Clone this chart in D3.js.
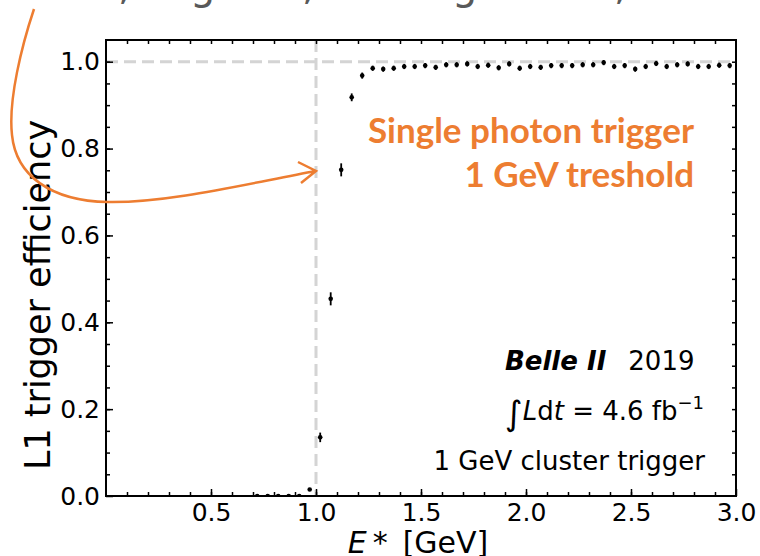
<!DOCTYPE html>
<html>
<head>
<meta charset="utf-8">
<script src="https://cdn.jsdelivr.net/npm/d3@7"></script>
<style>
  body { margin: 0; background: #fff; }
  svg { display: block; font-family: "DejaVu Sans", sans-serif; }
  .axis path, .axis line { stroke: #000; }
  .axis text { font-family: "DejaVu Sans", sans-serif; fill: #000; }
</style>
</head>
<body>
<div id="chart-area"></div>
<script>
// bin centres [GeV]
var energy = [0.72, 0.77, 0.82, 0.87, 0.92, 0.97, 1.02, 1.07, 1.12,
	1.17, 1.22, 1.27, 1.32, 1.37, 1.42, 1.47, 1.52, 1.57, 1.62, 1.67,
	1.72, 1.77, 1.82, 1.87, 1.92, 1.97, 2.02, 2.07, 2.12, 2.17, 2.22,
	2.27, 2.32, 2.37, 2.42, 2.47, 2.52, 2.57, 2.62, 2.67, 2.72, 2.77,
	2.82, 2.87, 2.92, 2.97];

// L1 efficiency per bin
var efficiency = [0.0, 0.0, 0.0, 0.0, 0.0, 0.015, 0.135, 0.454, 0.751,
	0.918, 0.968, 0.985, 0.983, 0.985, 0.989, 0.989, 0.991, 0.987, 0.993, 0.993,
	0.995, 0.989, 0.992, 0.986, 0.995, 0.985, 0.989, 0.987, 0.991, 0.991, 0.991,
	0.993, 0.993, 0.998, 0.989, 0.991, 0.983, 0.989, 0.996, 0.989, 0.993, 0.995,
	0.989, 0.989, 0.992, 0.991];

// symmetric errors
var effError = [0.001, 0.001, 0.001, 0.001, 0.001, 0.003, 0.011, 0.015, 0.015,
	0.009, 0.007, 0.006, 0.006, 0.006, 0.006, 0.006, 0.006, 0.006, 0.006, 0.006,
	0.006, 0.006, 0.006, 0.006, 0.006, 0.006, 0.006, 0.006, 0.006, 0.006, 0.006,
	0.006, 0.006, 0.006, 0.006, 0.006, 0.006, 0.006, 0.006, 0.006, 0.006, 0.006,
	0.006, 0.006, 0.006, 0.006];

var xTicks = [0.5, 1.0, 1.5, 2.0, 2.5, 3.0];
var yTicks = [0.0, 0.2, 0.4, 0.6, 0.8, 1.0];
var threshold = 1.0;   // dashed vertical line
var plateau = 1.0;     // dashed horizontal line

var width = 760, height = 556;
var plotLeft = 106, plotRight = 736, plotTop = 40, plotBottom = 496;
var orange = "#ED7D31";

var svg = d3.select("#chart-area")
	.append("svg")
		.attr("width", width)
		.attr("height", height);

//scales
var x = d3.scaleLinear()
	.domain([0, 3])
	.range([plotLeft, plotRight]);

var y = d3.scaleLinear()
	.domain([0, 1.05])
	.range([plotBottom, plotTop]);

// cut-off slide title above the plot
var titleBits = [[118, ","], [190, "g"], [302, ","], [452, "g"], [614, ","]];
titleBits.forEach(function(b){
	svg.append("text")
		.attr("x", b[0])
		.attr("y", -1)
		.attr("font-size", 40)
		.attr("fill", "#595959")
		.text(b[1]);
});

svg.append("clipPath")
	.attr("id", "plot-clip")
	.append("rect")
		.attr("x", plotLeft)
		.attr("y", plotTop)
		.attr("width", plotRight-plotLeft)
		.attr("height", plotBottom-plotTop);

//dashed reference lines
svg.append("line")
	.attr("x1", plotLeft).attr("x2", plotRight)
	.attr("y1", y(plateau)).attr("y2", y(plateau))
	.attr("stroke", "#d4d4d4")
	.attr("stroke-width", 3)
	.attr("stroke-dasharray", "12,6");

svg.append("line")
	.attr("x1", x(threshold)).attr("x2", x(threshold))
	.attr("y1", plotTop).attr("y2", plotBottom)
	.attr("stroke", "#d4d4d4")
	.attr("stroke-width", 3)
	.attr("stroke-dasharray", "12,6");

//axes, ticks pointing in (matplotlib style)
function minorTicks(step, max) {
	var t = [];
	for (var v = step; v < max; v += step) t.push(+v.toFixed(3));
	return t;
}

svg.append("g")
	.attr("class", "x axis")
	.attr("transform", "translate(0, " +plotBottom+ ")")
	.call(d3.axisBottom(x).tickValues(minorTicks(0.1, 3)).tickSize(-4).tickFormat(""))
	.call(function(g){ g.select(".domain").remove(); });

svg.append("g")
	.attr("class", "x axis")
	.attr("transform", "translate(0, " +plotBottom+ ")")
	.call(d3.axisBottom(x).tickValues(xTicks).tickSize(-7).tickPadding(7)
		.tickFormat(d3.format(".1f")))
	.call(function(g){
		g.select(".domain").remove();
		g.selectAll("text").attr("font-size", 25);
	});

svg.append("g")
	.attr("class", "x axis")
	.attr("transform", "translate(0, " +plotTop+ ")")
	.call(d3.axisTop(x).tickValues(minorTicks(0.1, 3)).tickSize(-4).tickFormat(""))
	.call(function(g){ g.select(".domain").remove(); });

svg.append("g")
	.attr("class", "y axis")
	.attr("transform", "translate(" +plotLeft+ ", 0)")
	.call(d3.axisLeft(y).tickValues(minorTicks(0.05, 1.05)).tickSize(-4).tickFormat(""))
	.call(function(g){ g.select(".domain").remove(); });

svg.append("g")
	.attr("class", "y axis")
	.attr("transform", "translate(" +plotLeft+ ", 0)")
	.call(d3.axisLeft(y).tickValues(yTicks).tickSize(-7).tickPadding(6)
		.tickFormat(d3.format(".1f")))
	.call(function(g){
		g.select(".domain").remove();
		g.selectAll("text").attr("font-size", 25);
	});

svg.append("g")
	.attr("class", "y axis")
	.attr("transform", "translate(" +plotRight+ ", 0)")
	.call(d3.axisRight(y).tickValues(minorTicks(0.05, 1.05)).tickSize(-4).tickFormat(""))
	.call(function(g){ g.select(".domain").remove(); });

svg.selectAll(".axis line").attr("stroke-width", 1.5);

//frame
svg.append("rect")
	.attr("x", plotLeft).attr("y", plotTop)
	.attr("width", plotRight-plotLeft).attr("height", plotBottom-plotTop)
	.attr("fill", "none")
	.attr("stroke", "#000")
	.attr("stroke-width", 2);

//labels
svg.append("text")
	.attr("transform", "translate(50, 295) rotate(-90)")
	.attr("text-anchor", "middle")
	.attr("font-size", 35)
	.text("L1 trigger efficiency");

var xLabel = svg.append("text")
	.attr("x", 418)
	.attr("y", 553)
	.attr("text-anchor", "middle")
	.attr("font-size", 30);
xLabel.append("tspan").attr("font-style", "italic").text("E");
xLabel.append("tspan").text("\u2009*\u2002[GeV]");

//data points with error bars
var points = energy.map(function(e, i){
	return { e: e, eff: efficiency[i], err: effError[i] };
});

var marks = svg.append("g").attr("clip-path", "url(#plot-clip)");

marks.selectAll("line.err")
	.data(points)
	.enter().append("line")
		.attr("class", "err")
		.attr("x1", function(d){ return x(d.e) })
		.attr("x2", function(d){ return x(d.e) })
		.attr("y1", function(d){ return y(d.eff - d.err) })
		.attr("y2", function(d){ return y(d.eff + d.err) })
		.attr("stroke", "#000")
		.attr("stroke-width", 1.8);

marks.selectAll("circle")
	.data(points)
	.enter().append("circle")
		.attr("cx", function(d){ return x(d.e) })
		.attr("cy", function(d){ return y(d.eff) })
		.attr("r", 2.3)
		.attr("fill", "#000");

//Belle II legend text
var info = svg.append("g").attr("font-size", 26);
var l1 = info.append("text").attr("x", 505).attr("y", 370);
l1.append("tspan").attr("font-weight", "bold").attr("font-style", "italic").text("Belle II");
l1.append("tspan").attr("dx", 22).text("2019");

var l2 = info.append("text").attr("x", 505).attr("y", 420);
l2.append("tspan").attr("font-size", 34).attr("dy", 5).text("\u222B");
l2.append("tspan").attr("dy", -5).attr("font-style", "italic").text("L");
l2.append("tspan").text("d");
l2.append("tspan").attr("font-style", "italic").text("t");
l2.append("tspan").text(" = 4.6 fb");
l2.append("tspan").attr("dy", -11).attr("font-size", 18).text("\u22121");

info.append("text")
	.attr("x", 705).attr("y", 470)
	.attr("text-anchor", "end")
	.text("1 GeV cluster trigger");

//orange annotation
var note = svg.append("g")
	.attr("fill", orange)
	.attr("font-family", "Lato, 'Open Sans', sans-serif")
	.attr("font-weight", "bold")
	.attr("font-size", 35)
	.attr("text-anchor", "end");
note.append("text").attr("x", 694).attr("y", 143).text("Single photon trigger");
note.append("text").attr("x", 694).attr("y", 187).text("1 GeV treshold");

var curve = d3.path();
curve.moveTo(34, 9);
curve.bezierCurveTo(22, 45, 8, 100, 12, 135);
curve.bezierCurveTo(16, 175, 50, 201, 108, 202);
curve.bezierCurveTo(170, 203, 250, 183, 316, 171);
curve.moveTo(298, 162);
curve.lineTo(316, 171);
curve.lineTo(301, 183);

svg.append("path")
	.attr("d", curve.toString())
	.attr("fill", "none")
	.attr("stroke", orange)
	.attr("stroke-width", 2.5)
	.attr("stroke-linejoin", "miter");
</script>
</body>
</html>
